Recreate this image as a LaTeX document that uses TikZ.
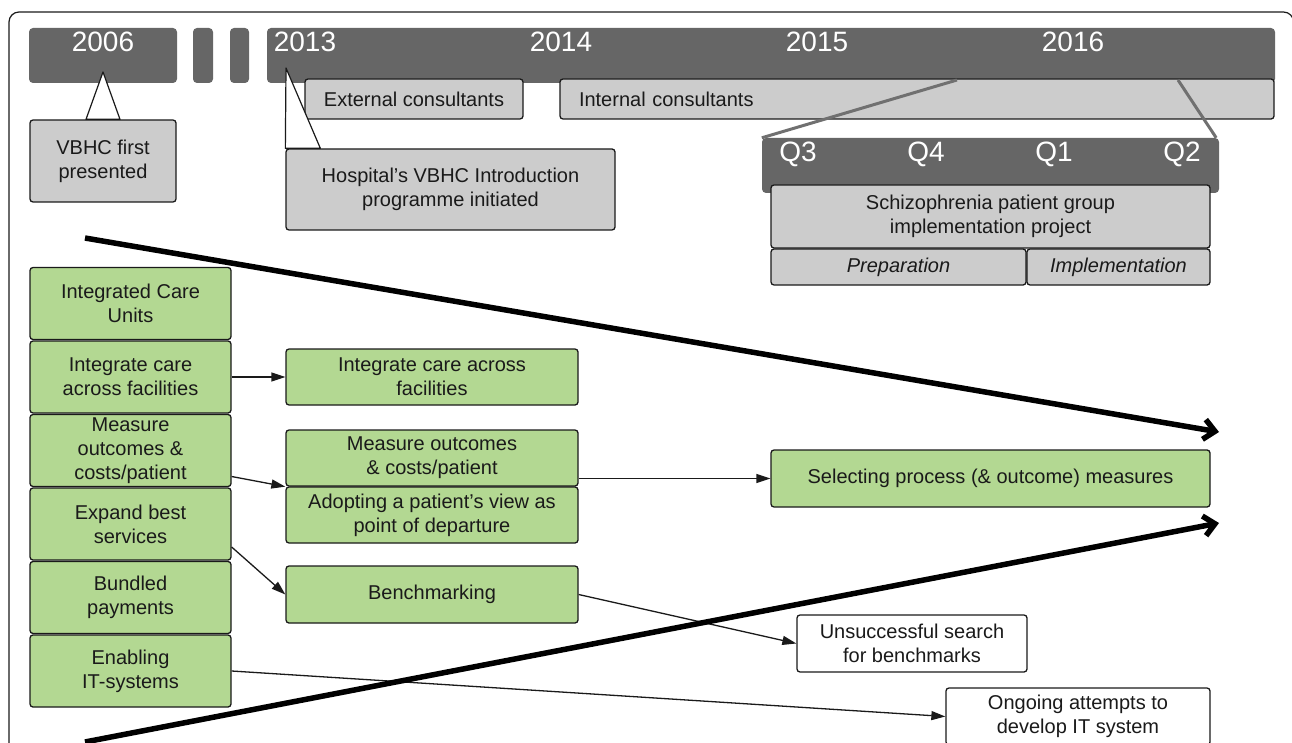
\documentclass[tikz,border=0pt]{standalone}
\usepackage{fontspec}
\setmainfont{Liberation Sans}
\setsansfont{Liberation Sans}
\usepackage{tikz}
\usetikzlibrary{arrows.meta, calc}

\definecolor{bardark}{RGB}{102,102,102}
\definecolor{boxgrey}{RGB}{204,204,204}
\definecolor{boxgreen}{RGB}{179,216,146}
\definecolor{zoomgrey}{RGB}{112,112,112}
\definecolor{ink}{RGB}{26,26,26}

\begin{document}
\begin{tikzpicture}[font=\sffamily, x=1pt, y=-1pt]
	\tikzset	{
		timebar/.style={fill=bardark, rounded corners=4pt, minimum height=55, inner sep=0pt},
		yearlabel/.style={text=white, anchor=base, font=\sffamily\fontsize{28}{32}\selectfont},
		panel/.style={draw=ink, line width=1.3pt, rounded corners=3pt, align=center, inner sep=2pt, text=ink, font=\sffamily\fontsize{20}{24}\selectfont},
		greybox/.style={panel, fill=boxgrey},
		greenbox/.style={panel, fill=boxgreen},
		whitebox/.style={panel, fill=white},
		callout/.style={draw=ink, fill=white, line width=1.2pt, line join=round},
	}
	\tikzset	{
		link/.style={draw=ink, line width=1.3pt, -{Triangle[length=14pt,width=9pt]}},
		trend/.style={draw=black, line width=5.5pt, -{Straight Barb[length=11pt,width=20pt]}},
	}
	\useasboundingbox (0,0) rectangle (1292,743);
	\draw[draw=ink, line width=1.2pt, rounded corners=10pt]	(9,12) rectangle (1293.5,775);

	\node[timebar, minimum width=148]	(bar2006)	at (103,55.5)	{};
	\node[timebar, minimum width=20]	(gap1)		at (203,55.5)	{};
	\node[timebar, minimum width=19]	(gap2)		at (239.5,55.5)	{};
	\node[timebar, minimum width=1008]	(bar)		at (771,55.5)	{};

	\node[yearlabel]	(y2006)	at (103,52)	{2006};
	\foreach \yr [count=\i] in {2013,...,2016} {
		\node[yearlabel]	(y\yr)	at ({305+256*(\i-1)},52)	{\yr};
	}

	\node[greybox, minimum width=218, minimum height=40]	(ext)	at (414,99)	{External consultants};
	\node[greybox, minimum height=40, text width=676, inner xsep=19, align=left]	(int)	at (917,99)	{Internal consultants};

	\node[greybox, minimum width=146, minimum height=82]	(vbhc)	at (103,161)	{VBHC first\\presented};
	\coordinate (tip2006) at (103,72);
	\draw[callout]	(tip2006) -- ([xshift=17pt]vbhc.north) -- ([xshift=-17pt]vbhc.north) -- cycle;

	\coordinate (tip2013) at (286,68);
	\node[greybox, minimum width=329, minimum height=81]	(hosp)	at (450.5,189.5)	{Hospital's VBHC Introduction\\programme initiated};
	\draw[callout]	(tip2013) -- ([xshift=35pt]hosp.north west) -- (hosp.north west) -- cycle;

	\coordinate (zoomA) at (957,80);
	\coordinate (zoomB) at (1178,80);
	\node[timebar, minimum width=457]	(qbar)	at (990.5,165.5)	{};
	\draw[draw=zoomgrey, line width=3pt]	(zoomA) -- (qbar.north west);
	\draw[draw=zoomgrey, line width=3pt]	(zoomB) -- ([xshift=-3pt]qbar.north east);
	\foreach \q [count=\i] in {Q3,Q4,Q1,Q2} {
		\node[yearlabel]	(q\i)	at ({798+128*(\i-1)},162)	{\q};
	}

	\node[greybox, minimum width=439, minimum height=63]	(schiz)	at (990.5,216.5)	{Schizophrenia patient group\\implementation project};
	\node[greybox, minimum width=255, minimum height=36]	(prep)	at (898.5,267)	{\itshape Preparation};
	\node[greybox, minimum width=183, minimum height=36]	(impl)	at (1118.5,267)	{\itshape Implementation};

	\foreach \name/\txt [count=\i] in {icu/{Integrated Care\\Units}, lic/{Integrate care\\across facilities}, lmo/{Measure\\outcomes \&\\costs/patient}, lexp/{Expand best\\services}, lbun/{Bundled\\payments}, lit/{Enabling\\IT-systems}} {
		\node[greenbox, minimum width=201, minimum height=72]	(\name)	at (130.5,{303.5+73.5*(\i-1)})	{\txt};
	}

	\node[greenbox, minimum width=292, minimum height=56]	(mic)	at (432,377)	{Integrate care across\\facilities};
	\node[greenbox, minimum width=292, minimum height=56]	(mmo)	at (432,458)	{Measure outcomes\\\& costs/patient};
	\node[greenbox, minimum width=292, minimum height=56]	(madp)	at (432,515)	{Adopting a patient's view as\\point of departure};
	\node[greenbox, minimum width=292, minimum height=57]	(bench)	at (432,594.5)	{Benchmarking};

	\node[greenbox, minimum width=439, minimum height=57]	(sel)		at (990.5,478.5)	{Selecting process (\& outcome) measures};
	\node[whitebox, minimum width=230, minimum height=57]	(unsucc)	at (912,643.5)		{Unsuccessful search\\for benchmarks};
	\node[whitebox, minimum width=264, minimum height=57]	(ongo)		at (1078,716.5)		{Ongoing attempts to\\develop IT system};

	\draw[link]	(lic.east) -- (mic.west);
	\draw[link]	([yshift=-26pt]lmo.east) -- (mmo.south west);
	\draw[link]	([yshift=-23pt]lexp.east) -- (bench.west);
	\draw[link]	(bench.east) -- (unsucc.west);
	\draw[link]	(lit.east) -- (ongo.west);
	\draw[link]	(mmo.east |- sel.west) -- (sel.west);

	\coordinate (topstart)	at (85,238);
	\coordinate (topend)	at (1219,432);
	\coordinate (botstart)	at (85,742);
	\coordinate (botend)	at (1219,523);
	\draw[trend]	(topstart) -- (topend);
	\draw[trend]	(botstart) -- (botend);
\end{tikzpicture}
\end{document}
